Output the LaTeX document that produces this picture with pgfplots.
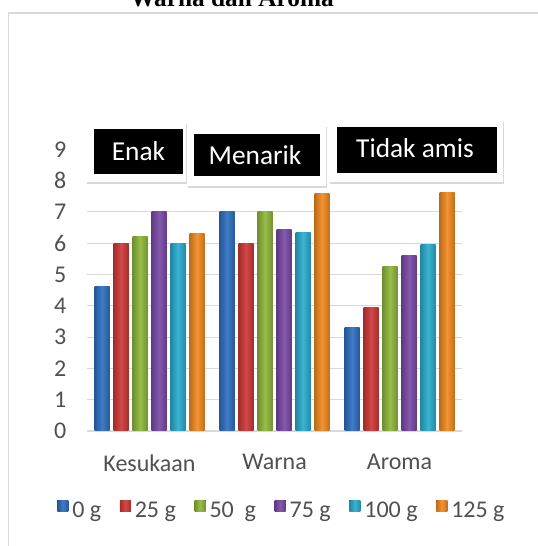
\documentclass[border=0pt]{standalone}
\usepackage{pgfplots}
\pgfplotsset{compat=1.18}
\usepackage{fontspec}
\setmainfont{Carlito}
\newfontfamily\titlefont{Liberation Serif}
\usetikzlibrary{shadows}
\definecolor{cB}{HTML}{2F70C2}
\definecolor{cR}{HTML}{D03838}
\definecolor{cG}{HTML}{8FB83A}
\definecolor{cP}{HTML}{7A4AA8}
\definecolor{cC}{HTML}{2AADD0}
\definecolor{cO}{HTML}{F38B20}
\definecolor{txt}{HTML}{505050}
\definecolor{gridc}{HTML}{D9D9D9}
\pgfplotsset{
  shadebar/.style={draw=none, left color=#1!78!black, right color=#1!80!black, middle color=#1!92!white},
}
\begin{document}
\begin{tikzpicture}[x=0.75pt,y=0.75pt]
\node[font=\titlefont\bfseries\fontsize{19}{22}\selectfont, anchor=base, inner sep=0pt] at (232,539) {Warna dan Aroma};
\draw[gridc, line width=1.1pt] (8.5,-2) -- (8.5,533) -- (545,533);
\begin{axis}[
  at={(65.25pt,86.25pt)}, anchor=south west,
  scale only axis, width=281.25pt, height=211.3pt,
  xmin=-0.5, xmax=2.5, ymin=0, ymax=9,
  xtick={0,1,2}, xticklabels={Kesukaan,Warna,Aroma},
  ytick={0,...,9},
  extra y ticks={1,...,7}, extra y tick labels={},
  extra y tick style={grid=major},
  major grid style={gridc, line width=0.7pt},
  major tick length=0pt,
  axis x line*=bottom, axis y line*=left,
  x axis line style={gridc, line width=1.6pt, -},
  y axis line style={draw=none},
  /pgf/number format/assume math mode=true,
  ticklabel style={font=\fontsize{18}{21}\selectfont, text=txt},
  xticklabel style={anchor=north, inner sep=0pt, yshift=-17.5pt},
  yticklabel style={anchor=east, inner sep=0pt, xshift=-15.4pt},
  ybar, bar width=0.12,
  legend columns=6,
  legend style={at={(0.517,-0.28)}, anchor=center, draw=none, fill=none,
    font=\fontsize{18}{21}\selectfont, text=txt,
    nodes={inner sep=0pt},
    /tikz/every even column/.append style={column sep=14pt}},
  legend image code/.code={\fill[#1] (0pt,-0.5pt) rectangle (8.25pt,7.75pt);},
]
\addplot[shadebar=cB, bar shift=-0.38] coordinates {(0,4.63)};
\addplot[shadebar=cR, bar shift=-0.228] coordinates {(0,6.0)};
\addplot[shadebar=cG, bar shift=-0.076] coordinates {(0,6.2)};
\addplot[shadebar=cP, bar shift=0.076] coordinates {(0,7.0)};
\addplot[shadebar=cC, bar shift=0.228] coordinates {(0,6.0)};
\addplot[shadebar=cO, bar shift=0.38] coordinates {(0,6.3)};
\legend{\kern3pt 0 g, \kern3pt 25 g, \kern3pt 50\ \ g, \kern3pt 75 g, \kern3pt 100 g, \kern3pt 125 g}
\addplot[shadebar=cB, bar shift=-0.38, forget plot] coordinates {(1,7.0)};
\addplot[shadebar=cR, bar shift=-0.228, forget plot] coordinates {(1,6.0)};
\addplot[shadebar=cG, bar shift=-0.076, forget plot] coordinates {(1,7.0)};
\addplot[shadebar=cP, bar shift=0.076, forget plot] coordinates {(1,6.45)};
\addplot[shadebar=cC, bar shift=0.228, forget plot] coordinates {(1,6.33)};
\addplot[shadebar=cO, bar shift=0.38, forget plot] coordinates {(1,7.6)};
\addplot[shadebar=cB, bar shift=-0.38, forget plot] coordinates {(2,3.30)};
\addplot[shadebar=cR, bar shift=-0.228, forget plot] coordinates {(2,3.96)};
\addplot[shadebar=cG, bar shift=-0.076, forget plot] coordinates {(2,5.27)};
\addplot[shadebar=cP, bar shift=0.076, forget plot] coordinates {(2,5.62)};
\addplot[shadebar=cC, bar shift=0.228, forget plot] coordinates {(2,5.97)};
\addplot[shadebar=cO, bar shift=0.38, forget plot] coordinates {(2,7.63)};
\end{axis}
% annotation boxes
\path[fill=white, drop shadow={shadow xshift=1pt, shadow yshift=-1.5pt, opacity=0.3}] (85.6,424.4) rectangle (186,364);
\fill[black] (94,416.5) rectangle (183,372);
\node[text=white, font=\fontsize{20.5}{24}\selectfont, inner sep=0pt] at (138.5,395) {Enak};
\path[fill=white, drop shadow={shadow xshift=1pt, shadow yshift=-1.5pt, opacity=0.3}] (187,421) rectangle (326,360);
\fill[black] (193.5,412) rectangle (320,370);
\node[text=white, font=\fontsize{20.5}{24}\selectfont, inner sep=0pt] at (255,390.5) {Menarik};
\path[fill=white, drop shadow={shadow xshift=1pt, shadow yshift=-1.5pt, opacity=0.3}] (329,426) rectangle (503,364);
\fill[black] (337,419) rectangle (497,373);
\node[text=white, font=\fontsize{20.5}{24}\selectfont, inner sep=0pt] at (415,398) {Tidak amis};
\pgfresetboundingbox
\path[use as bounding box] (0,0) rectangle (537,546);
\end{tikzpicture}
\end{document}
